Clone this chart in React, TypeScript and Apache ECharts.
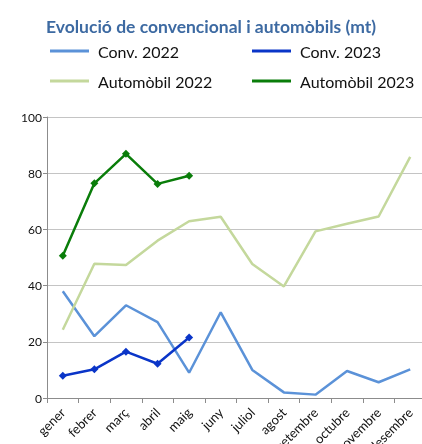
import React, { useEffect, useRef } from "react";
import * as echarts from "echarts";

const months = ["gener", "febrer", "març", "abril", "maig", "juny", "juliol", "agost", "setembre", "octubre", "novembre", "desembre"];
const conv2022 = [38, 22, 33, 27, 9, 30.5, 10, 2, 1.2, 9.6, 5.6, 10.2];
const conv2023 = [7.9, 10.2, 16.5, 12.2, 21.5];
const auto2022 = [24.3, 47.8, 47.3, 56, 62.9, 64.5, 47.7, 39.7, 59.3, 62, 64.6, 85.8];
const auto2023 = [50.6, 76.4, 86.9, 76.2, 79.1];

const C_CONV22 = "#5b92d8";
const C_CONV23 = "#0a35c8";
const C_AUTO22 = "#c4d89c";
const C_AUTO23 = "#0a7d0a";

const FONT = "Lato";

export default function App() {
  const ref = useRef<HTMLDivElement>(null);
  useEffect(() => {
    if (!ref.current) return;
    const chart = echarts.init(ref.current, undefined, { renderer: "svg" });
    const legendBase = (name: string, left: number, top: number) => ({
      data: [name],
      left,
      top,
      icon: "rect",
      itemWidth: 39,
      itemHeight: 3,
      padding: 0,
      textStyle: { fontFamily: FONT, fontSize: 16, color: "#111", padding: [0, 0, 0, 4] },
    });
    chart.setOption({
      animation: false,
      title: {
        text: "Evolució de convencional i automòbils (mt)",
        left: "center",
        top: 12,
        textStyle: { fontFamily: FONT, fontSize: 17.5, fontWeight: "bold", color: "#3d6aa2" },
      },
      legend: [
        legendBase("Conv. 2022", 50, 43),
        legendBase("Conv. 2023", 252, 43),
        legendBase("Automòbil 2022", 50, 73),
        legendBase("Automòbil 2023", 252, 73),
      ],
      grid: { left: 47, top: 117, width: 379, height: 281, containLabel: false, outerBoundsMode: "none" },
      xAxis: {
        type: "category",
        data: months,
        boundaryGap: true,
        axisLine: { lineStyle: { color: "#8c8c8c", width: 1 } },
        axisTick: { show: true, length: 5, interval: 0, lineStyle: { color: "#8c8c8c" } },
        axisLabel: { rotate: 45, interval: 0, fontFamily: FONT, fontSize: 13, color: "#111", margin: 12 },
      },
      yAxis: {
        type: "value",
        min: 0,
        max: 100,
        interval: 20,
        axisLine: { show: true, lineStyle: { color: "#8c8c8c", width: 1 } },
        axisTick: { show: true, length: 4, lineStyle: { color: "#8c8c8c" } },
        axisLabel: { fontFamily: FONT, fontSize: 12, color: "#111", margin: 5 },
        splitLine: { lineStyle: { color: "#c4c4c4", width: 1 } },
      },
      series: [
        { name: "Conv. 2022", type: "line", data: conv2022, showSymbol: false, symbol: "none", lineStyle: { color: C_CONV22, width: 2.5 }, itemStyle: { color: C_CONV22 }, z: 2 },
        { name: "Automòbil 2022", type: "line", data: auto2022, showSymbol: false, symbol: "none", lineStyle: { color: C_AUTO22, width: 2.5 }, itemStyle: { color: C_AUTO22 }, z: 2 },
        { name: "Conv. 2023", type: "line", data: conv2023, symbol: "diamond", symbolSize: 8, lineStyle: { color: C_CONV23, width: 2.5 }, itemStyle: { color: C_CONV23 }, z: 3 },
        { name: "Automòbil 2023", type: "line", data: auto2023, symbol: "diamond", symbolSize: 8, lineStyle: { color: C_AUTO23, width: 2.5 }, itemStyle: { color: C_AUTO23 }, z: 3 },
      ],
    });
    return () => chart.dispose();
  }, []);
  return <div ref={ref} style={{ position: "fixed", left: 0, top: 0, width: 422, height: 444 }} />;
}
